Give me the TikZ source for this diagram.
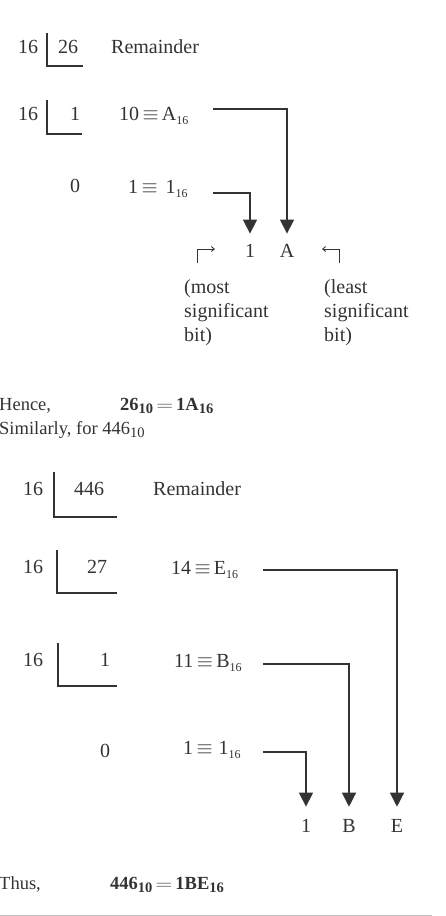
\documentclass[tikz,border=0pt]{standalone}
\usepackage{fontspec}
\usepackage{graphicx}
\setmainfont{Liberation Serif}
\usetikzlibrary{arrows.meta}
\definecolor{ink}{HTML}{333333}
\newcommand\hsub[1]{\raisebox{-4pt}{\fontsize{12}{12}\selectfont #1}}
\newcommand\lsub[1]{\raisebox{-3.5pt}{\fontsize{14.5}{14.5}\selectfont #1}}
\newcommand\weq{\scalebox{1.35}[1]{$=$}}
\begin{document}
\begin{tikzpicture}[x=1pt,y=-1pt,
  every node/.style={inner sep=0pt, text=ink, font=\fontsize{20}{24}\selectfont},
  txt/.style={anchor=base west},
  dig/.style={anchor=base},
  low/.style={font=\fontsize{18.5}{22}\selectfont},
  bar/.style={draw=ink, line width=1.2pt},
  conn/.style={draw=ink, line width=1.3pt, -{Triangle[width=14pt,length=14pt]}},
  mini/.style={draw=ink, line width=0.9pt, -{Straight Barb[length=3pt,width=5pt]}}
]
\useasboundingbox (0,0) rectangle (445,916);

% ---------- first division: 26 ----------
\node[txt] (d1) at (18,53) {16};
\node[txt] (q1) at (58,53) {26};
\node[txt] (h1) at (111,53) {Remainder};
\draw[bar] (47,33) -- (47,66) -- (83,66);

\node[txt] (d2) at (18,120) {16};
\node[txt] (q2) at (70,120) {1};
\draw[bar] (47,100) -- (47,134) -- (82,134);
\node[txt] (r2) at (119,120) {10\,$\equiv$\,A\hsub{16}};

\node[txt] (q3) at (70,192) {0};
\node[txt] (r3) at (128,193) {1\,$\equiv$\hspace{8pt}1\hsub{16}};

\node[dig] (o1) at (250,257) {1};
\node[dig] (oA) at (287,257) {A};

\coordinate (s2) at (213,109);
\coordinate (s3) at (213,193);
\draw[conn] (s2) -| ([yshift=10pt]oA.north);
\draw[conn] (s3) -| ([yshift=10pt]o1.north);

\draw[mini] (197,263) -- (197,249) -- (215,249);
\draw[mini] (339,263) -- (339,249) -- (322,249);

\node[txt] (m1) at (184,293) {(most};
\node[txt] (m2) at (184,317) {significant};
\node[txt] (m3) at (184,341) {bit)};
\node[txt] (l1) at (324,293) {(least};
\node[txt] (l2) at (324,317) {significant};
\node[txt] (l3) at (324,341) {bit)};

\node[txt,low] (hc) at (-1,410) {Hence,};
\node[txt,low] (eq1) at (120,410) {\textbf{26\lsub{10}\,\weq\,1A\lsub{16}}};
\node[txt,low] (sm) at (-1,434) {Similarly,\ for 446\lsub{10}};

% ---------- second division: 446 ----------
\node[txt] (e1) at (23,495) {16};
\node[txt] (f1) at (74,495) {446};
\node[txt] (h2) at (153,495) {Remainder};
\draw[bar] (54,472) -- (54,517) -- (117,517);

\node[txt] (e2) at (23,573) {16};
\node[txt] (f2) at (87,573) {27};
\draw[bar] (57,550) -- (57,593) -- (117,593);
\node[txt] (t2) at (171,574) {14\,$\equiv$\,E\hsub{16}};

\node[txt] (e3) at (23,666) {16};
\node[txt] (f3) at (100,666) {1};
\draw[bar] (58,643) -- (58,686) -- (117,686);
\node[txt] (t3) at (174,667) {11\,$\equiv$\,B\hsub{16}};

\node[txt] (f4) at (100,757) {0};
\node[txt] (t4) at (183,754) {1\,$\equiv$\hspace{6pt}1\hsub{16}};

\node[dig] (g1) at (306,832) {1};
\node[dig] (gB) at (349,832) {B};
\node[dig] (gE) at (397,832) {E};

\coordinate (u2) at (263,570);
\coordinate (u3) at (263,664);
\coordinate (u4) at (263,752);
\draw[conn] (u2) -| ([yshift=12pt]gE.north);
\draw[conn] (u3) -| ([yshift=12pt]gB.north);
\draw[conn] (u4) -| ([yshift=12pt]g1.north);

\node[txt,low] (th) at (-1,889) {Thus,};
\node[txt,low] (eq2) at (110,889) {\textbf{446\lsub{10}\,\weq\,1BE\lsub{16}}};

\draw[gray!50, line width=1pt] (0,915) -- (432,915);
\end{tikzpicture}
\end{document}
